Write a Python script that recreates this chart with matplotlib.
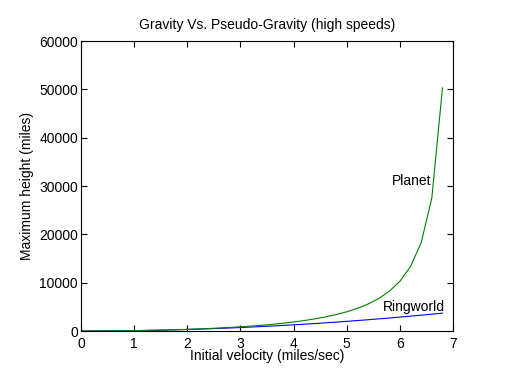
import numpy as np
import matplotlib
matplotlib.use('Agg')
import matplotlib.pyplot as plt

plt.rcParams['font.family'] = ['Liberation Sans', 'DejaVu Sans']

# velocidad inicial (miles/sec)
vel = [0.0, 0.2, 0.4, 0.6, 0.8, 1.0, 1.2, 1.4, 1.6, 1.8, 2.0, 2.2, 2.4, 2.6, 2.8,
       3.0, 3.2, 3.4, 3.6, 3.8, 4.0, 4.2, 4.4, 4.6, 4.8, 5.0, 5.2, 5.4, 5.6, 5.8,
       6.0, 6.2, 6.4, 6.6, 6.8]

# altura maxima en el anillo (pseudo-gravedad)
ringworld = [0, 3, 13, 29, 51, 80, 115, 157, 205, 259, 320, 387, 461, 541, 627,
             720, 819, 925, 1037, 1155, 1280, 1411, 1549, 1693, 1843, 2000, 2163,
             2333, 2509, 2691, 2880, 3075, 3277, 3485, 3699]

# altura maxima en el planeta (gravedad)
planet = [0, 3, 13, 29, 51, 81, 118, 162, 214, 275, 345, 425, 517, 620, 738,
          871, 1022, 1194, 1390, 1613, 1870, 2167, 2512, 2918, 3401, 3982, 4693,
          5580, 6718, 8223, 10304, 13366, 18302, 27574, 50300]

fig = plt.figure(figsize=(5.12, 3.84), dpi=100)
ax = fig.add_axes([0.158, 0.138, 0.727, 0.755])

ax.plot(vel, ringworld, color=(0, 0, 1), lw=0.8)
ax.plot(vel, planet, color=(0, 0.5, 0), lw=0.8)

ax.text(5.85, 31000, 'Planet', fontsize=10, va='center', ha='left')
ax.text(5.68, 4900, 'Ringworld', fontsize=10, va='center', ha='left')

ax.set_xlim(0, 7)
ax.set_ylim(0, 60000)
ax.set_xticks(range(0, 8))
ax.set_yticks(range(0, 60001, 10000))
ax.tick_params(direction='in', top=True, right=True, length=4, width=0.8,
               labelsize=10)
ax.tick_params(axis='x', pad=4)
ax.tick_params(axis='y', pad=2)
for s in ax.spines.values():
    s.set_linewidth(0.8)

ax.set_title('Gravity Vs. Pseudo-Gravity (high speeds)', fontsize=10, pad=9)
ax.set_xlabel('Initial velocity (miles/sec)', fontsize=10, labelpad=-1)
ax.set_ylabel('Maximum height (miles)', fontsize=10, labelpad=4)

fig.savefig('out.png', dpi=100)
